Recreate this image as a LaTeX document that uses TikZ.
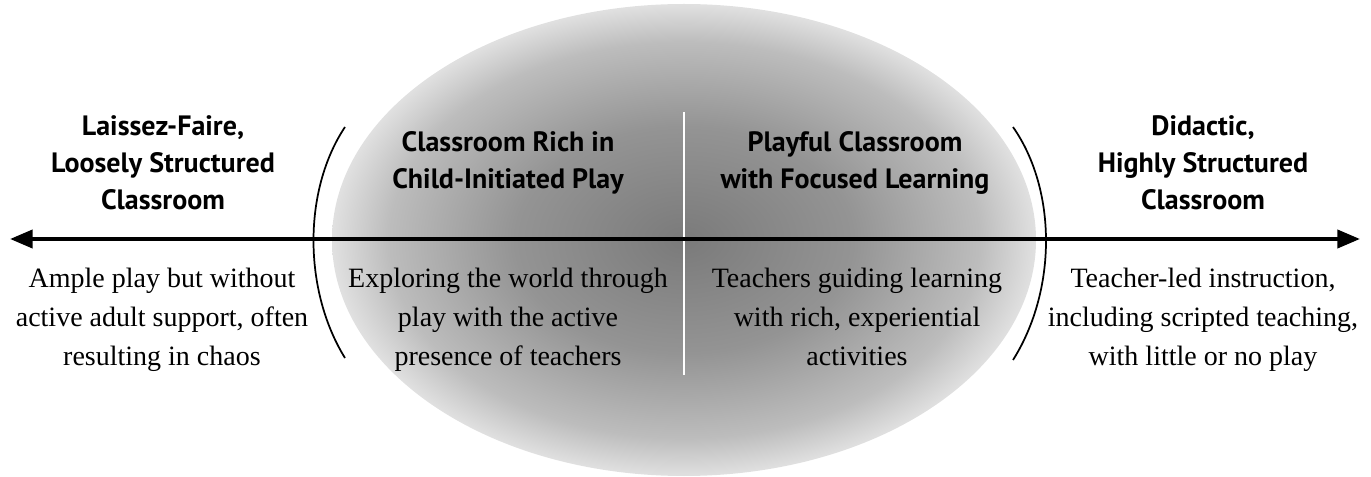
\documentclass[tikz,border=0pt]{standalone}
\usepackage{fontspec}
\setmainfont{Liberation Serif}
\newfontfamily\headfont{PT Sans}
\usetikzlibrary{arrows.meta}

\pgfdeclareradialshading{zoneshade}{\pgfpoint{0bp}{0bp}}{%
  color(0bp)=(black!52); color(12bp)=(black!42); color(21bp)=(black!26);
  color(25bp)=(black!12); color(50bp)=(black!12)}

\tikzset{
  head/.style={font=\headfont\bfseries\fontsize{21}{27.75}\selectfont, align=center},
  body/.style={font=\fontsize{21}{29}\selectfont, align=center, anchor=north, inner sep=0pt},
  bracket/.style={line width=1.3pt},
}

\begin{document}
\begin{tikzpicture}[x=0.75pt,y=0.75pt,yscale=-1,xscale=1]
\useasboundingbox (0,0) rectangle (1371,477);

% shaded middle zone
\shade[shading=zoneshade] (684,240) ellipse [x radius=352, y radius=236];
\draw[white, line width=1pt] (684,112) -- (684,375);

% brackets round the middle zone
\draw[bracket] (345,127) .. controls (303,190) and (303,290) .. (345,358);
\draw[bracket] (1013,127) .. controls (1057,190) and (1057,290) .. (1013,360);

% the axis
\coordinate (leftend) at (10,239);
\coordinate (rightend) at (1360,239);
\draw[line width=3pt, {Triangle[length=17pt,width=13.5pt]}-{Triangle[length=17pt,width=13.5pt]}] (leftend) -- (rightend);

\node[head] (laissez) at (163,163) {Laissez-Faire,\\Loosely Structured\\Classroom};
\node[head] (childplay) at (508,163) {Classroom Rich in\\Child-Initiated Play};
\node[head] (playful) at (855,163) {Playful Classroom\\with Focused Learning};
\node[head] (didactic) at (1203,163) {Didactic,\\Highly Structured\\Classroom};

\node[body] (chaos) at (162,268) {Ample play but without\\active adult support, often\\resulting in chaos};
\node[body] (explore) at (508,268) {Exploring the world through\\play with the active\\presence of teachers};
\node[body] (guide) at (857,268) {Teachers guiding learning\\with rich, experiential\\activities};
\node[body] (led) at (1203,268) {Teacher-led instruction,\\including scripted teaching,\\with little or no play};
\end{tikzpicture}
\end{document}
